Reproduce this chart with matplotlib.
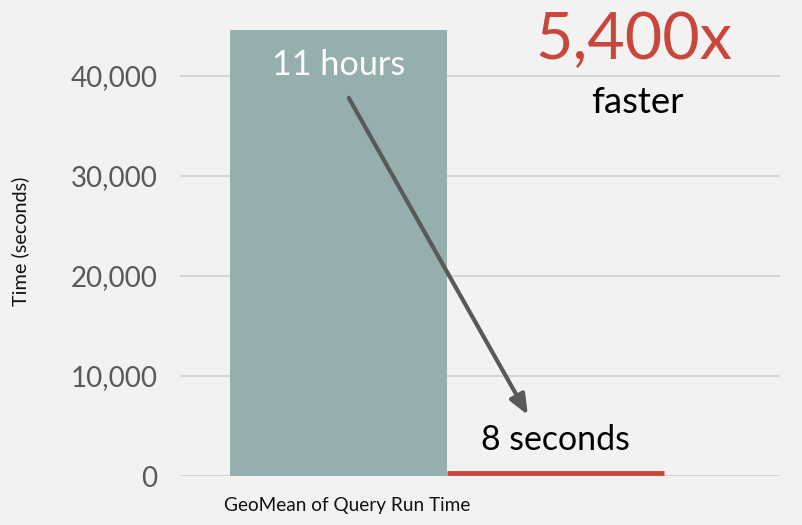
import matplotlib
matplotlib.use("Agg")
import matplotlib.pyplot as plt
import matplotlib.transforms as mtransforms

# data
series = ["Before", "After"]
times = [44600, 8]  # seconds
bar_colors = ["#95afae", "#c9473a"]
bar_labels = ["11 hours", "8 seconds"]
category = "GeoMean of Query Run Time"
yticks = [0, 10000, 20000, 30000, 40000]
speedup = "5,400x"

plt.rcParams["font.family"] = ["Lato", "DejaVu Sans"]

fig = plt.figure(figsize=(8.02, 5.25), dpi=100, facecolor="#f2f2f2")
ax = fig.add_axes([0.2244, 0.0933, 0.7482, 0.8572], facecolor="#f2f2f2")

x = [0, 1]
ax.bar(x, times, width=1.0, color=bar_colors, zorder=3)
# the 8 second bar is too thin to see, draw it as a red line sitting on the baseline
shifted = mtransforms.offset_copy(ax.transData, fig=fig, x=0, y=2.5, units="dots")
ax.hlines(times[1], x[1] - 0.5, x[1] + 0.5, color=bar_colors[1],
          linewidth=3.5, zorder=4, clip_on=False, transform=shifted)

ax.set_xlim(-0.73, 2.035)
ax.set_ylim(0, 45000)
ax.set_yticks(yticks)
ax.set_yticklabels([f"{v:,}" for v in yticks], fontsize=20, color="#595959")
ax.yaxis.grid(True, color="#d0d0d0", linewidth=1.2, zorder=0)
ax.tick_params(axis="y", length=0, pad=16)
ax.set_xticks([0.04])
ax.set_xticklabels([category], fontsize=13.7, color="#111111")
ax.tick_params(axis="x", length=0, pad=15)
for s in ax.spines.values():
    s.set_visible(False)

fig.text(20 / 802, 1 - 241 / 525, "Time (seconds)", fontsize=14.3,
         color="#111111", rotation=90, ha="center", va="center")

ax.text(x[0], 41100, bar_labels[0], color="white", fontsize=24.7,
        ha="center", va="center", zorder=5)
ax.text(x[1], 3600, bar_labels[1], color="black", fontsize=24.4,
        ha="center", va="center", zorder=5)
ax.text(1.362, 43500, speedup, color="#c9473a", fontsize=46.5,
        ha="center", va="center", zorder=5, clip_on=False)
ax.text(1.38, 37300, "faster", color="black", fontsize=26.4,
        ha="center", va="center", zorder=5)

ax.annotate("", xy=(0.873, 6100), xytext=(0.048, 37800),
            arrowprops=dict(arrowstyle="-|>,head_length=1.2,head_width=0.5",
                            color="#595959", lw=3, shrinkA=0, shrinkB=0),
            zorder=6)

fig.savefig("out.png", dpi=100, facecolor=fig.get_facecolor())
